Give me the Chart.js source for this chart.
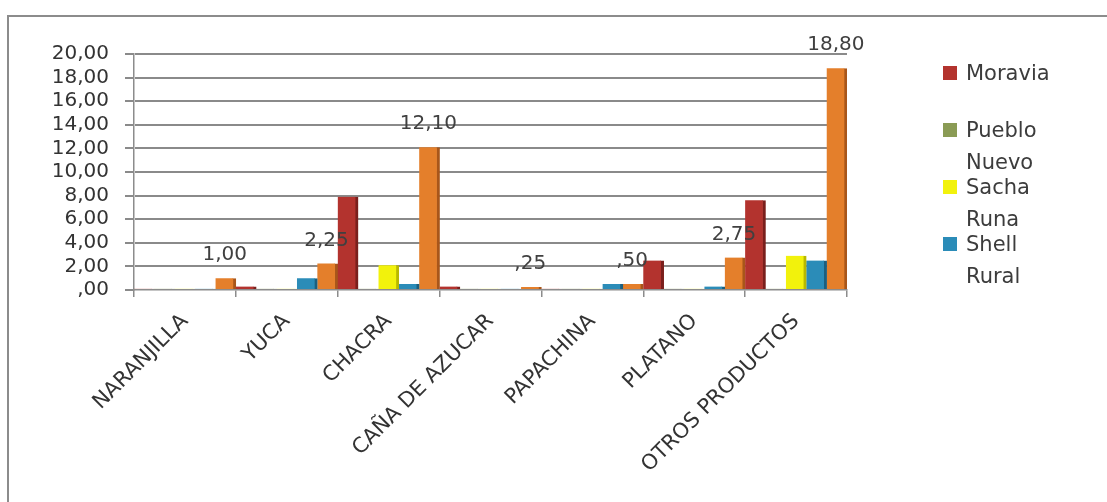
<!DOCTYPE html>
<html>
<head>
<meta charset="utf-8">
<script src="https://cdn.jsdelivr.net/npm/chart.js@4.4.1/dist/chart.umd.min.js"></script>
<style>
  body { margin: 0; background: #ffffff; overflow: hidden; }
  #frame { position: absolute; left: 7px; top: 15px; width: 1200px; height: 600px; border: 2px solid #8c8c8c; }
  #wrap { position: absolute; left: 0; top: 0; width: 1107px; height: 502px; }
  #grid { position: absolute; left: 0; top: 0; width: 1107px; height: 502px; }
  #grid div { position: absolute; height: 2px; background: #8a8a8a; }
  #myChart { position: absolute; left: 0; top: 0; }
  #legend { position: absolute; left: 0; top: 0; font-family: "DejaVu Sans", sans-serif; font-size: 21px; color: #3c3c3c; }
  .item { position: absolute; left: 966px; width: 100px; line-height: 32px; }
  .box { position: absolute; left: -23px; top: 9px; width: 14px; height: 14px; }
</style>
</head>
<body>
<div id="frame"></div>
<div id="wrap">
  <div id="grid"></div>
  <canvas id="myChart" width="1107" height="502"></canvas>
  <div id="legend"></div>
</div>
<script>
// Data
const categories = ['NARANJILLA', 'YUCA', 'CHACRA', 'CAÑA DE AZUCAR', 'PAPACHINA', 'PLATANO', 'OTROS PRODUCTOS'];
const seriesNames = ['Moravia', 'Pueblo Nuevo', 'Sacha Runa', 'Shell Rural', 'Total'];
const moravia = [0.1, 0.3, 7.9, 0.3, 0.1, 2.5, 7.6];
const puebloNuevo = [0.1, 0.1, 0.1, 0.1, 0.1, 0.1, 0.1];
const sachaRuna = [0.1, 0.1, 2.1, 0.1, 0.1, 0.1, 2.9];
const shellRural = [0.1, 1.0, 0.5, 0.1, 0.5, 0.3, 2.5];
const totals = [1.00, 2.25, 12.10, 0.25, 0.50, 2.75, 18.80];
const yTicks = [0, 2, 4, 6, 8, 10, 12, 14, 16, 18, 20];

const colors = ['#b3332e', '#8a9b55', '#f2f20c', '#2b8cb8', '#e47f2b'];
const sideColors = ['#7a1f1c', '#5e6b36', '#b8b800', '#1c5f7e', '#a8561a'];

// 1.5 -> "1,50", 0.25 -> ",25"
function fmt(v) {
    let s = v.toFixed(2).replace('.', ',');
    if (s.startsWith('0,')) s = s.substring(1);
    return s;
}

function plotSpan(chart) {
    const x = chart.scales.x;
    let left = x.left, right = x.right;
    if (!isFinite(left) || !isFinite(right) || right <= left) {
        left = chart.chartArea.left;
        right = chart.chartArea.right;
    }
    return { left: left, right: right };
}

const data = {
    labels: categories,
    datasets: [moravia, puebloNuevo, sachaRuna, shellRural, totals].map((vals, i) => ({
        label: seriesNames[i],
        data: vals,
        backgroundColor: colors[i],
        borderColor: sideColors[i],
        borderWidth: { top: 0, right: 3, bottom: 0, left: 0 },
        borderSkipped: false
    }))
};

// grid lines behind the bars, filled as thin rectangles
const backLines = {
    id: 'backLines',
    beforeDatasetsDraw(chart) {
        const ctx = chart.ctx;
        const y = chart.scales.y;
        const span = plotSpan(chart);
        ctx.save();
        ctx.globalAlpha = 1;
        ctx.globalCompositeOperation = 'source-over';
        ctx.fillStyle = '#8a8a8a';
        yTicks.forEach(v => {
            if (v === 0) return;
            const py = Math.round(y.getPixelForValue(v));
            ctx.fillRect(span.left + 1, py - 1, span.right - span.left - 1, 2);
        });
        ctx.restore();
    }
};

// value labels above the orange bars
const valueLabels = {
    id: 'valueLabels',
    afterDatasetsDraw(chart) {
        const ctx = chart.ctx;
        const meta = chart.getDatasetMeta(4);
        ctx.save();
        ctx.font = '20px "DejaVu Sans"';
        ctx.fillStyle = '#404040';
        ctx.textAlign = 'center';
        ctx.textBaseline = 'middle';
        meta.data.forEach((bar, i) => {
            ctx.fillText(fmt(totals[i]), bar.x - 1, bar.y - 23);
        });
        ctx.restore();
    }
};

const config = {
    type: 'bar',
    data: data,
    options: {
        responsive: false,
        animation: false,
        layout: { padding: { top: 54, right: 260, bottom: 0, left: 0 } },
        datasets: { bar: { categoryPercentage: 1, barPercentage: 1 } },
        plugins: {
            legend: { display: false },
            tooltip: { enabled: false }
        },
        scales: {
            x: {
                grid: {
                    display: true,
                    drawOnChartArea: false,
                    drawTicks: true,
                    tickLength: 7,
                    color: '#8c8c8c',
                    lineWidth: 1.5
                },
                border: { color: '#8c8c8c', width: 1.5 },
                ticks: {
                    autoSkip: false,
                    maxRotation: 45,
                    minRotation: 45,
                    padding: 12,
                    color: '#333333',
                    font: { family: 'DejaVu Sans', size: 21 }
                },
                afterFit: function(scale) { scale.height = 212; }
            },
            y: {
                min: 0,
                max: 20,
                afterBuildTicks: function(scale) { scale.ticks = yTicks.map(v => ({ value: v })); },
                grid: {
                    display: true,
                    drawOnChartArea: false,
                    drawTicks: true,
                    color: '#8a8a8a',
                    lineWidth: 2,
                    tickLength: 9
                },
                border: { color: '#8c8c8c', width: 1.5 },
                ticks: {
                    autoSkip: false,
                    padding: 16,
                    color: '#333333',
                    font: { family: 'DejaVu Sans', size: 20, lineHeight: 1 },
                    callback: function(value) { return fmt(value); }
                },
                afterFit: function(scale) { scale.width = 134; }
            }
        }
    },
    plugins: [backLines, valueLabels]
};

var myChart = new Chart(document.getElementById('myChart'), config);

// same grid lines as page elements under the transparent canvas, placed from the chart's scales
const grid = document.getElementById('grid');
const span = plotSpan(myChart);
yTicks.forEach(v => {
    if (v === 0) return;
    const py = Math.round(myChart.scales.y.getPixelForValue(v));
    const line = document.createElement('div');
    line.style.left = (span.left + 1) + 'px';
    line.style.width = (span.right - span.left - 1) + 'px';
    line.style.top = (py - 1) + 'px';
    grid.appendChild(line);
});

// legend (four stations, orange totals are not listed)
const legend = document.getElementById('legend');
seriesNames.slice(0, 4).forEach((name, i) => {
    const item = document.createElement('div');
    item.className = 'item';
    item.style.top = (57 + i * 57) + 'px';
    item.innerHTML = '<span class="box" style="background:' + colors[i] + '"></span>' + name;
    legend.appendChild(item);
});
</script>
</body>
</html>
